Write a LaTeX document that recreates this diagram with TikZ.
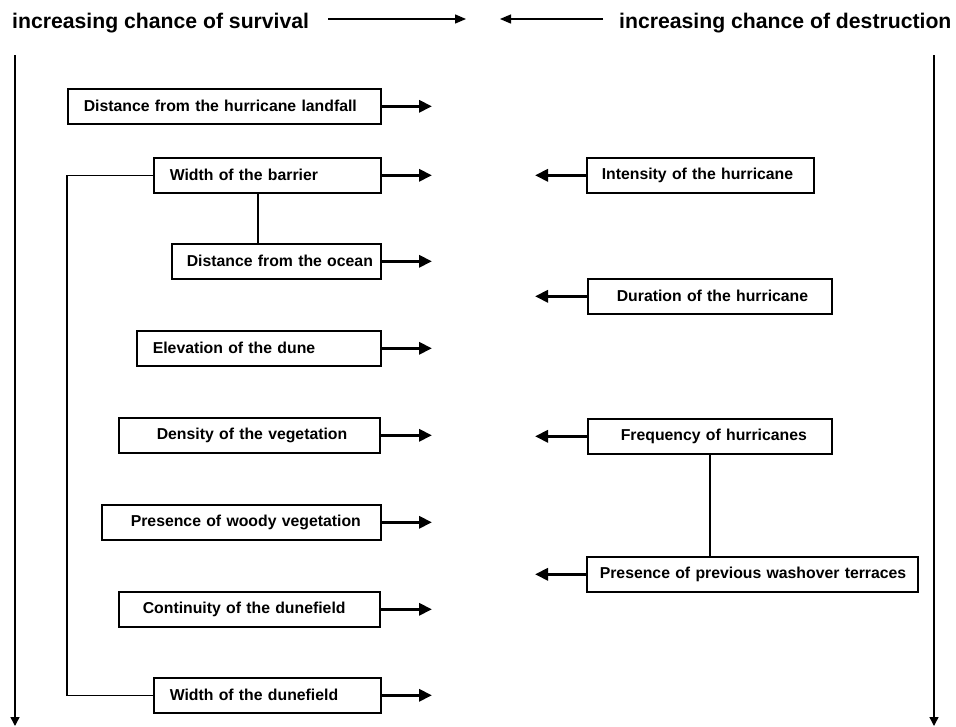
\documentclass[tikz,border=0pt]{standalone}
\usepackage{fontspec}
\setmainfont{Liberation Sans}
\usetikzlibrary{arrows.meta}
\begin{document}
\begin{tikzpicture}[x=1pt,y=-1pt,
  hdr/.style={inner sep=0pt, anchor=west, font=\bfseries\fontsize{21.2}{24}\selectfont},
  box/.style={draw, line width=1.6pt, inner xsep=0pt, inner ysep=0pt, minimum height=35pt,
     align=left, anchor=north west, font=\bfseries\fontsize{15.8}{18}\selectfont},
  fat/.style={line width=3.6pt, -{Triangle[length=13pt,width=12pt]}},
  thinarrow/.style={line width=1.3pt, -{Triangle[length=11pt,width=9pt]}},
  axis/.style={line width=1.4pt, -{Triangle[length=9pt,width=9pt]}},
  link/.style={line width=1.4pt}]
\useasboundingbox (0,0) rectangle (956,726);
% headers
\node[hdr] (hl) at (12,23) {increasing chance of survival};
\node[hdr] (hr) at (619,23) {increasing chance of destruction};
\coordinate (ha1) at (328,19); \coordinate (ha2) at (466,19);
\coordinate (hb1) at (603,19); \coordinate (hb2) at (500,19);
\draw[thinarrow] (ha1) -- (ha2);
\draw[thinarrow] (hb1) -- (hb2);
% vertical axes
\coordinate (vl1) at (15,55); \coordinate (vl2) at (15,726);
\coordinate (vr1) at (934,55); \coordinate (vr2) at (934,726);
\draw[axis] (vl1) -- (vl2);
\draw[axis] (vr1) -- (vr2);
% left boxes
\node[box, text width=313pt] (n1) at (67,88)  {\hspace*{16pt}Distance from the hurricane landfall};
\node[box, text width=227pt] (n2) at (153,157) {\hspace*{16pt}Width of the barrier};
\node[box, text width=209pt] (n3) at (171,243) {\hspace*{15pt}Distance from the ocean};
\node[box, text width=244pt] (n4) at (136,330) {\hspace*{16pt}Elevation of the dune};
\node[box, text width=261pt] (n5) at (118,417) {\hspace*{38pt}Density of the vegetation};
\node[box, text width=279pt] (n6) at (101,504) {\hspace*{29pt}Presence of woody vegetation};
\node[box, text width=261pt] (n7) at (118,591) {\hspace*{24pt}Continuity of the dunefield};
\node[box, text width=227pt] (n8) at (153,677) {\hspace*{16pt}Width of the dunefield};
% right boxes
\node[box, text width=227pt] (r1) at (586,157) {\hspace*{15pt}Intensity of the hurricane};
\node[box, text width=244pt] (r2) at (587,278) {\hspace*{29pt}Duration of the hurricane};
\node[box, text width=244pt] (r3) at (587,418) {\hspace*{33pt}Frequency of hurricanes};
\node[box, text width=331pt] (r4) at (586,556) {\hspace*{13pt}Presence of previous washover terraces};
% arrows
\coordinate (tipL) at (432,0);
\coordinate (tipR) at (535,0);
\foreach \n in {n1,n2,n3,n4,n5,n6,n7,n8}
  \draw[fat] (\n.east) -- (\n.east -| tipL);
\foreach \n in {r1,r2,r3,r4}
  \draw[fat] (\n.west) -- (\n.west -| tipR);
% links
\coordinate (cx) at (67,0);
\coordinate (bx) at (258,0);
\draw[link] (n2.west) -- (n2.west -| cx) -- (n8.west -| cx) -- (n8.west);
\draw[link] (n2.south -| bx) -- (n3.north -| bx);
\draw[link] (r3.south) -- (r3.south |- r4.north);
\end{tikzpicture}
\end{document}
